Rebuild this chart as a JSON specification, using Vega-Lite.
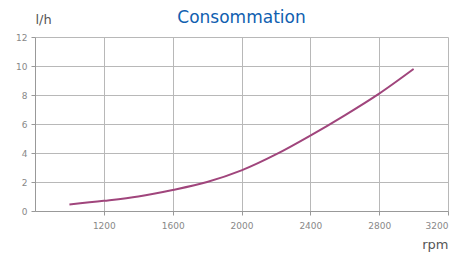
{
  "$schema": "https://vega.github.io/schema/vega-lite/v6.json",
  "width": 413,
  "height": 174,
  "autosize": "none",
  "padding": {"left": 35, "top": 37, "right": 19, "bottom": 44},
  "background": "white",
  "title": {
    "text": "Consommation",
    "font": "DejaVu Sans",
    "fontSize": 17,
    "fontWeight": "normal",
    "color": "#1060b0",
    "anchor": "middle",
    "frame": "group",
    "offset": -14
  },
  "config": {
    "view": {"stroke": null},
    "axis": {
      "labelFont": "DejaVu Sans",
      "labelFontSize": 9,
      "labelColor": "#888888",
      "titleFont": "DejaVu Sans",
      "titleFontSize": 13,
      "titleFontWeight": "normal",
      "titleColor": "#555555",
      "domainColor": "#999999",
      "tickColor": "#999999",
      "gridColor": "#b8b8b8",
      "gridWidth": 1
    }
  },
  "data": {
    "values": [
      {"rpm": 1000, "lh": 0.45},
      {"rpm": 1200, "lh": 0.7},
      {"rpm": 1400, "lh": 1.0},
      {"rpm": 1600, "lh": 1.45},
      {"rpm": 1800, "lh": 2.0},
      {"rpm": 2000, "lh": 2.8},
      {"rpm": 2200, "lh": 3.9},
      {"rpm": 2400, "lh": 5.2},
      {"rpm": 2600, "lh": 6.6},
      {"rpm": 2800, "lh": 8.1},
      {"rpm": 3000, "lh": 9.8}
    ]
  },
  "mark": {"type": "line", "color": "#a0457c", "strokeWidth": 2, "interpolate": "monotone"},
  "encoding": {
    "x": {
      "field": "rpm",
      "type": "quantitative",
      "scale": {"domain": [800, 3200], "nice": false, "zero": false},
      "axis": {
        "values": [1200, 1600, 2000, 2400, 2800, 3200],
        "format": "d",
        "title": "rpm",
        "titleAngle": 0,
        "titleAlign": "right",
        "titleBaseline": "alphabetic",
        "titleX": 413,
        "titleY": 37,
        "labelPadding": 6,
        "tickSize": 4,
        "grid": true
      }
    },
    "y": {
      "field": "lh",
      "type": "quantitative",
      "scale": {"domain": [0, 12], "nice": false},
      "axis": {
        "values": [0, 2, 4, 6, 8, 10, 12],
        "title": "l/h",
        "titleAngle": 0,
        "titleAlign": "left",
        "titleBaseline": "alphabetic",
        "titleX": 0,
        "titleY": -14,
        "labelPadding": 4,
        "tickSize": 4,
        "grid": true
      }
    }
  }
}
